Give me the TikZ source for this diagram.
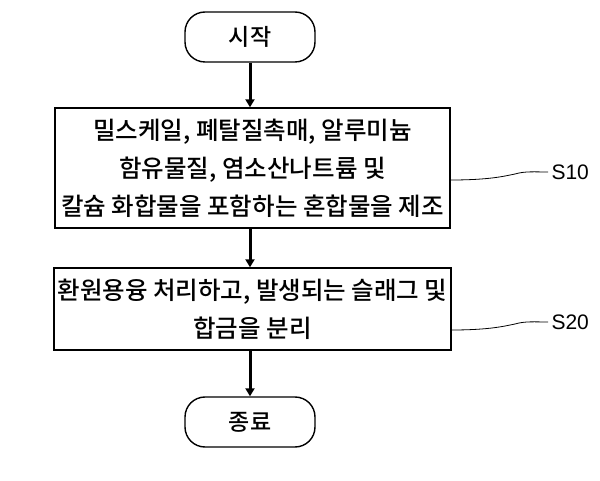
\documentclass[tikz,border=0pt]{standalone}
\usepackage{fontspec}
\newfontfamily\kr{Noto Sans CJK KR Medium}
\newfontfamily\lsans{Liberation Sans}
\usetikzlibrary{arrows.meta}
\begin{document}
\begin{tikzpicture}[x=1pt,y=-1pt,
  term/.style={draw,line width=1.4pt,rounded corners=20pt,minimum width=130pt,minimum height=50pt,font=\kr\fontsize{23}{26}\selectfont},
  proc/.style={draw,line width=1.4pt,minimum width=395pt,align=center,font=\kr\fontsize{24.5}{38}\selectfont},
  arr/.style={-{Triangle[length=8pt,width=9pt]},line width=3pt},
  lab/.style={font=\lsans\fontsize{21}{22}\selectfont}]
\useasboundingbox (0,0) rectangle (600,481);
\node[term] (s) at (250,37) {시작};
\node[proc,minimum height=120pt] (a) at (252.5,168) {밀스케일, 폐탈질촉매, 알루미늄\\함유물질, 염소산나트륨 및\\칼슘 화합물을 포함하는 혼합물을 제조};
\node[proc,minimum height=82pt] (b) at (252.5,309) {환원용융 처리하고, 발생되는 슬래그 및\\합금을 분리};
\node[term] (e) at (250,422) {종료};
\draw[arr] (s) -- (a.north -| s);
\draw[arr] (a.south -| s) -- (b.north -| s);
\draw[arr] (b.south -| s) -- (e);
\node[lab,anchor=west] (l1) at (548,172) {S10};
\node[lab,anchor=west] (l2) at (548,322) {S20};
\draw[line width=0.8pt] (a.east |- 0,180) .. controls (490,180) and (505,176) .. (515,174) .. controls (525,171) and (535,172) .. (l1.west);
\draw[line width=0.8pt] (b.east |- 0,330) .. controls (490,330) and (505,326) .. (515,324) .. controls (525,321) and (535,322) .. (l2.west);
\end{tikzpicture}
\end{document}
